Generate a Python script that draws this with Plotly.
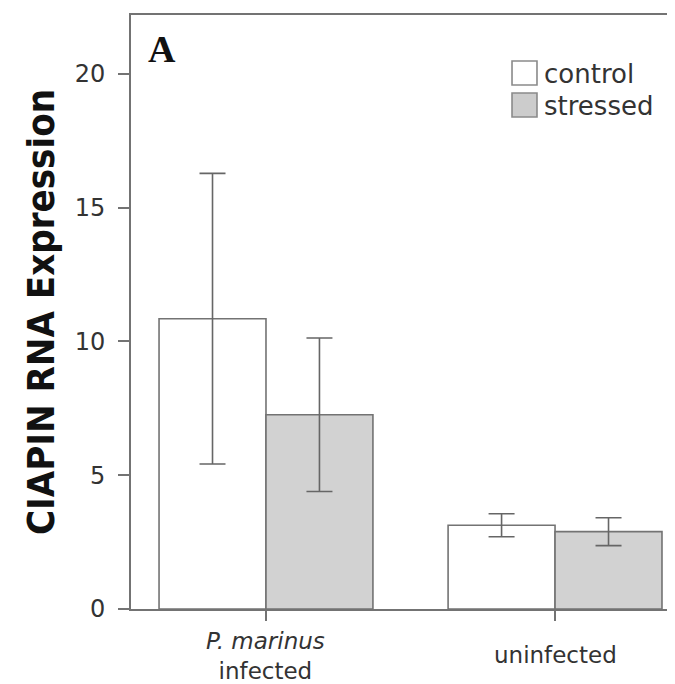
import plotly.graph_objects as go

categories = ["P. marinus infected", "uninfected"]
cat_positions = [0, 1]
control_means = [10.85, 3.13]
control_err = [5.43, 0.43]
stressed_means = [7.26, 2.89]
stressed_err = [2.87, 0.52]
ytick_vals = [0, 5, 10, 15, 20]
xtick_labels = ["<i>P. marinus</i><br>infected", "uninfected"]
legend_names = ["control", "stressed"]

line_col = "#737373"
err_col = "#666666"
control_fill = "white"
stressed_fill = "#d2d2d2"

fig = go.Figure()
fig.add_trace(go.Bar(
    x=cat_positions, y=control_means, name=legend_names[0], showlegend=False,
    marker=dict(color=control_fill, line=dict(color=line_col, width=1.6)),
    error_y=dict(type="data", array=control_err, color=err_col, thickness=1.6, width=13),
))
fig.add_trace(go.Bar(
    x=cat_positions, y=stressed_means, name=legend_names[1], showlegend=False,
    marker=dict(color=stressed_fill, line=dict(color=line_col, width=1.6)),
    error_y=dict(type="data", array=stressed_err, color=err_col, thickness=1.6, width=13),
))

# page has an 8px body margin; figure is sized to fill the rest of the window
fig.update_layout(
    width=667, height=676,
    margin=dict(l=123, r=0, t=7, b=75),
    plot_bgcolor="white", paper_bgcolor="white",
    barmode="group", bargap=0.26, bargroupgap=0,
    showlegend=False,
    font=dict(family="DejaVu Sans", size=24, color="#333333"),
    xaxis=dict(range=[-0.467, 1.415], tickvals=cat_positions,
               showticklabels=False, ticks="outside", ticklen=10, tickcolor=line_col,
               tickwidth=1.6, showline=True, linecolor=line_col, linewidth=2,
               mirror=True, showgrid=False, zeroline=False, fixedrange=True),
    yaxis=dict(range=[0, 22.2], tickvals=ytick_vals, ticks="outside", ticklen=11,
               tickcolor=line_col, tickwidth=1.6, showline=True, linecolor=line_col,
               linewidth=2, showgrid=False, zeroline=False, ticklabelstandoff=8,
               tickfont=dict(size=24, color="#333333"),
               title=dict(text="<b>CIAPIN RNA Expression</b>",
                          font=dict(family="DejaVu Sans Condensed", size=38, color="#111111"),
                          standoff=8)),
)

# category labels under the axis
for xv, lab, yp in zip(cat_positions, xtick_labels, [-0.0791, -0.0774]):
    fig.add_annotation(x=xv, xref="x", y=yp, yref="paper",
                       text=lab, showarrow=False, yanchor="middle",
                       font=dict(size=23, color="#333333"))

# legend drawn with boxes and labels
legend_fills = [control_fill, "#cccccc"]
box_rows = [(0.8822, 0.9226), (0.8283, 0.8687)]
text_rows = [0.9000, 0.8465]
for name, fill, (y0, y1), ty in zip(legend_names, legend_fills, box_rows, text_rows):
    fig.add_shape(type="rect", xref="paper", yref="paper", x0=0.7004, x1=0.7463,
                  y0=y0, y1=y1, line=dict(color="#8a8a8a", width=1.6), fillcolor=fill)
    fig.add_annotation(x=0.7555, xref="paper", y=ty, yref="paper", text=name,
                       showarrow=False, xanchor="left", yanchor="middle",
                       font=dict(size=26, color="#333333"))

fig.add_annotation(x=0.057, xref="paper", y=0.942, yref="paper", text="<b>A</b>",
                   showarrow=False, xanchor="center", yanchor="middle",
                   font=dict(family="Liberation Serif", size=38, color="#111111"))

fig.write_html("out.html")
